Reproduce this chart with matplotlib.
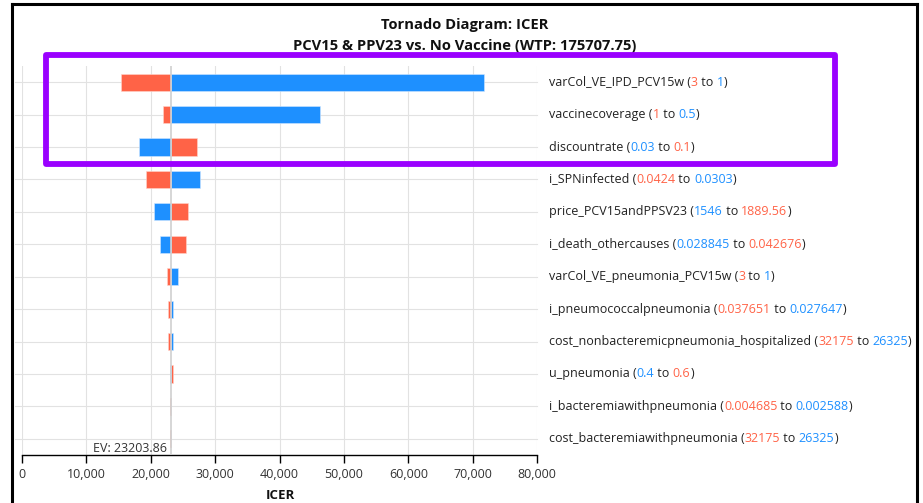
import matplotlib.pyplot as plt
import matplotlib.transforms as mtransforms
from matplotlib.patches import Rectangle
from matplotlib.lines import Line2D

plt.rcParams['font.family'] = ['Open Sans', 'DejaVu Sans']

# data (top row first)
params = ['varCol_VE_IPD_PCV15w', 'vaccinecoverage', 'discountrate', 'i_SPNinfected',
          'price_PCV15andPPSV23', 'i_death_othercauses', 'varCol_VE_pneumonia_PCV15w',
          'i_pneumococcalpneumonia', 'cost_nonbacteremicpneumonia_hospitalized',
          'u_pneumonia', 'i_bacteremiawithpneumonia', 'cost_bacteremiawithpneumonia']
from_vals = ['3', '1', '0.03', '0.0424', '1546', '0.028845', '3', '0.037651',
             '32175', '0.4', '0.004685', '32175']
to_vals = ['1', '0.5', '0.1', '0.0303', '1889.56', '0.042676', '1', '0.027647',
           '26325', '0.6', '0.002588', '26325']
from_is_red = [True, True, False, True, False, False, True, True, True, False, True, True]
icer_red = [15400, 21950, 27250, 19300, 25850, 25400, 22550, 22750, 22750, 23500, 22960, 22980]
icer_blue = [71800, 46300, 18200, 27700, 20550, 21450, 24300, 23450, 23500, 22950, 23210, 23210]
ev = 23203.86

RED = '#ff6347'
BLUE = '#1e90ff'
GRID = '#e2e2e2'

fig = plt.figure(figsize=(9.23, 5.03), dpi=100)
ax = fig.add_axes([22/923, 1-455/503, 515/923, 389/503])

n = len(params)
ys = [n - 1 - i for i in range(n)]

ax.barh(ys, [r - ev for r in icer_red], left=ev, height=0.53, color=RED,
        edgecolor='#ffd5cc', linewidth=0.4, zorder=2)
ax.barh(ys, [b - ev for b in icer_blue], left=ev, height=0.53, color=BLUE,
        edgecolor='#cfe6ff', linewidth=0.4, zorder=2)
ax.axvline(ev, color='#cfcfcf', lw=1.2, zorder=3)

ax.set_xlim(0, 80000)
ax.set_ylim(-0.5, n - 0.5)
ax.set_xticks(range(0, 80001, 10000))
ax.set_xticklabels([f'{v:,}' for v in range(0, 80001, 10000)], fontsize=9, color='#333333')
ax.set_yticks([])
ax.grid(axis='x', color=GRID, lw=0.8, zorder=0)
for s in ['left', 'right', 'top']:
    ax.spines[s].set_visible(False)
ax.spines['bottom'].set_color('black')
ax.spines['bottom'].set_linewidth(1)
ax.tick_params(axis='x', direction='out', length=6, width=1, color='black', pad=3)

trans = mtransforms.blended_transform_factory(ax.transAxes, ax.transData)
for y in ys:
    ax.plot([-0.0136, 1.0], [y, y], transform=trans, color=GRID, lw=0.8,
            clip_on=False, zorder=0)

ax.text(ev - 700, -0.5, f'EV: {ev:.2f}', ha='right', va='bottom', fontsize=9,
        color='#333333')

# multi-coloured labels on the right
for i, y in enumerate(ys):
    c1 = RED if from_is_red[i] else BLUE
    c2 = BLUE if from_is_red[i] else RED
    pieces = [(params[i] + ' (', '#222222'), (from_vals[i], c1), (' to ', '#222222'),
              (to_vals[i], c2), (')', '#222222')]
    t = ax.text(1.0233, y, pieces[0][0], transform=trans, va='center', ha='left',
                fontsize=9, color=pieces[0][1])
    for txt, col in pieces[1:]:
        t = ax.annotate(txt, xy=(1, 0), xycoords=t, va='bottom', ha='left',
                        fontsize=9, color=col)

# titles
fig.text(465/923, 1-25/503, 'Tornado Diagram: ICER', ha='center', va='center',
         fontsize=10.6, weight='bold', color='#111111')
fig.text(465/923, 1-46/503, 'PCV15 & PPV23 vs. No Vaccine (WTP: 175707.75)',
         ha='center', va='center', fontsize=10.6, weight='bold', color='#111111')
fig.text(280/923, 1-502/503, 'ICER', ha='center', va='bottom', fontsize=9.5,
         weight='bold', color='#111111')

# screenshot frame and highlight box
for xs, yy in [([12/923, 12/923], [1-4/503, 0]), ([917/923, 917/923], [1-4/503, 0]),
               ([12/923, 917/923], [1-4/503, 1-4/503])]:
    fig.add_artist(Line2D(xs, yy, transform=fig.transFigure, color='black', lw=2.2))
fig.add_artist(Rectangle((46/923, 1-163.5/503), (835-46)/923, (163.5-54.5)/503,
                         transform=fig.transFigure, fill=False, edgecolor='#9a00ff',
                         lw=4.2, joinstyle='round', zorder=10))

fig.savefig('out.png', dpi=100)
